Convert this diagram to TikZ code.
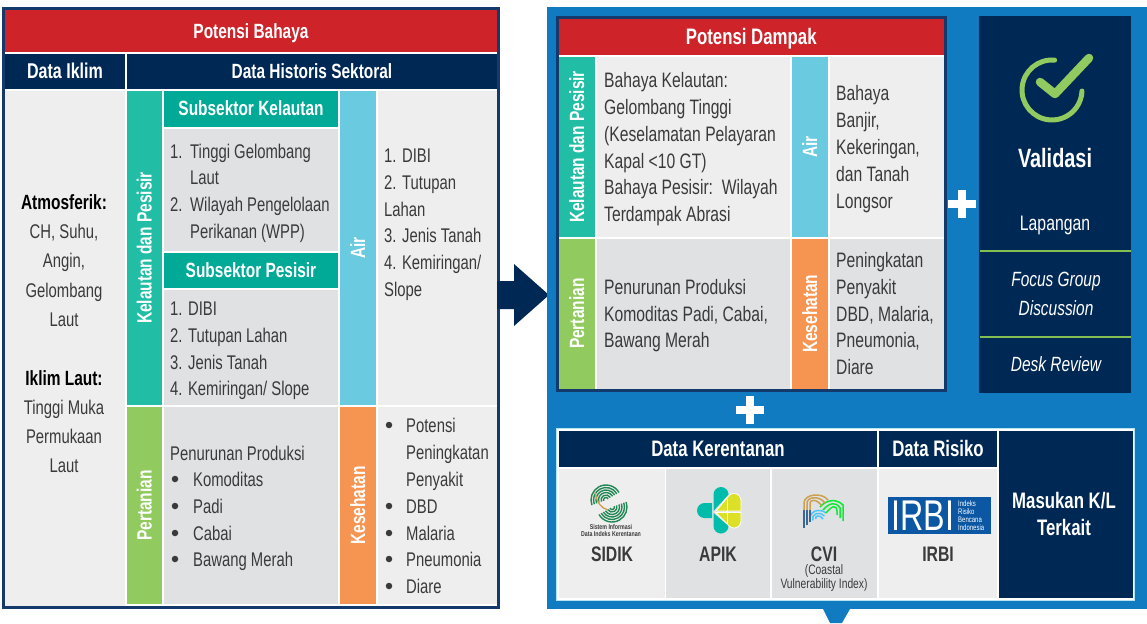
\documentclass[tikz,border=0pt]{standalone}
\usepackage{fontspec}
\setmainfont{Liberation Sans}[FakeStretch=0.75]
\definecolor{colorred}{RGB}{207,35,42}
\definecolor{colornavy}{RGB}{0,40,84}
\definecolor{colorframe}{RGB}{20,58,108}
\definecolor{colorteal}{RGB}{34,189,165}
\definecolor{colorsub}{RGB}{0,170,150}
\definecolor{colorair}{RGB}{106,202,224}
\definecolor{colorgreen}{RGB}{145,203,95}
\definecolor{colororange}{RGB}{246,149,82}
\definecolor{colorlight}{RGB}{238,238,238}
\definecolor{colorgray}{RGB}{224,225,227}
\definecolor{colorpanel}{RGB}{17,123,194}
\definecolor{colortext}{RGB}{58,58,58}
\definecolor{colorline}{RGB}{130,190,80}
\definecolor{colorirbi}{RGB}{11,87,164}
\definecolor{colorgold}{RGB}{205,160,80}
\definecolor{colorfinger}{RGB}{35,135,85}
\definecolor{colorapik}{RGB}{0,188,170}
\definecolor{coloryellow}{RGB}{220,225,40}
\tikzset{
  bodytext/.style={anchor=west,inner sep=0pt,text=colortext,text height=16pt,text depth=2pt,
              font=\fontsize{19.8}{22}\selectfont},
  largetext/.style={bodytext,font=\fontsize{20.9}{22}\selectfont},
  midtext/.style={bodytext,anchor=center},
  headtext/.style={inner sep=0pt,text=white,text height=16pt,text depth=2pt,font=\fontsize{20.6}{22}\selectfont\bfseries},
  bighead/.style={headtext,font=\fontsize{22.4}{24}\selectfont\bfseries},
  sidetext/.style={headtext,rotate=90},
  bulletdot/.style={circle,fill=colortext,inner sep=0pt,minimum size=6.5pt},
  whitetext/.style={midtext,text=white,font=\fontsize{21}{22}\selectfont},
  slanttext/.style={midtext,text=white,font=\fontsize{20.6}{22}\selectfont\itshape},
  systemtext/.style={headtext,text=colortext,text height=15pt,text depth=0pt,font=\fontsize{21}{22}\selectfont\bfseries},
  smalltext/.style={inner sep=0pt,text=colortext,font=\fontsize{13.7}{15}\selectfont},
  logotext/.style={inner sep=0pt,text=colortext,font=\fontsize{7}{8}\selectfont\bfseries},
}
\begin{document}
\begin{tikzpicture}[x=1pt,y=-1pt]
\useasboundingbox (0,0) rectangle (1147,623);

%part potensi bahaya
\fill[white,draw=colorframe,line width=3pt] (3.5,9) rectangle (498,607);
\path[fill=colorred] (5,10.5) rectangle (497,52) node[midway,headtext] (bahaya) {Potensi Bahaya};
\path[fill=colornavy] (5,54) rectangle (125,89) node[midway,headtext,font=\fontsize{21.4}{24}\selectfont\bfseries] (iklim) {Data Iklim};
\path[fill=colornavy] (127,54) rectangle (497,89) node[midway,headtext] (historis) {Data Historis Sektoral};
\fill[colorlight] (5,91) rectangle (125,605.5);
\path[fill=colorteal] (127,91) rectangle (162,405) node[midway,sidetext] (kelpes) {Kelautan dan Pesisir};
\path[fill=colorsub] (164,91) rectangle (338,127) node[midway,headtext] (subkel) {Subsektor Kelautan};
\fill[colorgray] (164,129) rectangle (338,251);
\path[fill=colorsub] (164,253) rectangle (338,288) node[midway,headtext] (subpes) {Subsektor Pesisir};
\fill[colorgray] (164,290) rectangle (338,405);
\path[fill=colorair] (340,91) rectangle (376,405) node[midway,sidetext] (air) {Air};
\fill[colorlight] (378,91) rectangle (497,405);
\path[fill=colorgreen] (127,407) rectangle (162,604) node[midway,sidetext] (tani) {Pertanian};
\fill[colorgray] (164,407) rectangle (338,604);
\path[fill=colororange] (340,407) rectangle (376,604) node[midway,sidetext] (sehat) {Kesehatan};
\fill[colorlight] (378,407) rectangle (497,604);

% data iklim
\node[midtext,text=black,font=\fontsize{20.6}{22}\selectfont\bfseries] (atmos) at (64,202) {Atmosferik:};
\foreach \n/\y/\t in {a/231/{CH, Suhu,},b/260/{Angin,},c/290/{Gelombang},d/319/{Laut},f/407/{Tinggi Muka},g/436/{Permukaan},h/465/{Laut}}
  \node[midtext] (iklim\n) at (64,\y) {\t};
\node[midtext,text=black,font=\fontsize{20.6}{22}\selectfont\bfseries] (laut) at (64,378) {Iklim Laut:};

% kelautan
\node[bodytext] (kel1) at (170,151) {1.};
\node[bodytext] (kel2) at (170,204) {2.};
\foreach \n/\y/\t in {a/151/{Tinggi Gelombang},b/177/{Laut},c/204/{Wilayah Pengelolaan},d/231/{Perikanan (WPP)}}
  \node[bodytext] (kel\n) at (190,\y) {\t};

% pesisir
\foreach \n/\y/\t in {a/308/{1. DIBI},b/335/{2. Tutupan Lahan},c/362/{3. Jenis Tanah},d/388/{4. Kemiringan/ Slope}}
  \node[bodytext] (pes\n) at (170,\y) {\t};

% air
\foreach \n/\y/\t in {a/155/{1. DIBI},b/182/{2. Tutupan},c/209/{Lahan},d/235/{3. Jenis Tanah},e/262/{4. Kemiringan/},f/289/{Slope}}
  \node[bodytext] (air\n) at (384,\y) {\t};

% pertanian
\node[bodytext] (tanit) at (170,453) {Penurunan Produksi};
\foreach \n/\y/\t in {a/479/{Komoditas},b/506/{Padi},c/533/{Cabai},d/559/{Bawang Merah}}{
  \node[bulletdot] (tanib\n) at (175,\y) {};
  \node[bodytext] (tani\n) at (193,\y) {\t};
}

% kesehatan
\foreach \n/\y/\t in {a/425/{Potensi},d/506/{DBD},e/533/{Malaria},f/559/{Pneumonia},g/586/{Diare}}{
  \node[bulletdot] (sehatb\n) at (389,\y) {};
  \node[bodytext] (sehat\n) at (406,\y) {\t};
}
\node[bodytext] (sehatb) at (406,452) {Peningkatan};
\node[bodytext] (sehatc) at (406,479) {Penyakit};

% panah
\fill[colornavy] (497,281) -- (514,281) -- (514,264) -- (549,295) -- (514,326) -- (514,309) -- (497,309) -- cycle;

%part panel biru
\fill[colorpanel] (547,7) rectangle (1147,609);
\fill[colorpanel] (823,609) -- (850,609) -- (842,623) -- (830,623) -- cycle;

%part potensi dampak
\fill[white,draw=colorframe,line width=3pt] (557.5,18) rectangle (945,390);
\path[fill=colorred] (559,19.5) rectangle (943.5,55) node[midway,bighead] (dampak) {Potensi Dampak};
\path[fill=colorteal] (559,57) rectangle (595,237) node[midway,sidetext] (dkelpes) {Kelautan dan Pesisir};
\fill[colorlight] (597,57) rectangle (790,237);
\path[fill=colorair] (792,57) rectangle (828,237) node[midway,sidetext] (dair) {Air};
\fill[colorlight] (830,57) rectangle (943.5,237);
\path[fill=colorgreen] (559,239) rectangle (595,388.5) node[midway,sidetext] (dtani) {Pertanian};
\fill[colorgray] (597,239) rectangle (790,388.5);
\path[fill=colororange] (792,239) rectangle (828,388.5) node[midway,sidetext] (dsehat) {Kesehatan};
\fill[colorgray] (830,239) rectangle (943.5,388.5);
\foreach \n/\y/\t in {a/81/{Bahaya Kelautan:},b/107/{Gelombang Tinggi},c/134/{(Keselamatan Pelayaran},d/161/{Kapal <10 GT)},e/187/{Bahaya Pesisir:\ \ Wilayah},f/214/{Terdampak Abrasi}}
  \node[largetext] (dkel\n) at (604,\y) {\t};
\foreach \n/\y/\t in {a/94/{Bahaya},b/121/{Banjir,},c/147/{Kekeringan,},d/174/{dan Tanah},e/201/{Longsor}}
  \node[largetext] (dair\n) at (836,\y) {\t};
\foreach \n/\y/\t in {a/287/{Penurunan Produksi},b/314/{Komoditas Padi, Cabai,},c/340/{Bawang Merah}}
  \node[largetext] (dtani\n) at (604,\y) {\t};
\foreach \n/\y/\t in {a/260/{Peningkatan},b/287/{Penyakit},c/314/{DBD, Malaria,},d/340/{Pneumonia,},e/367/{Diare}}
  \node[largetext] (dsehat\n) at (836,\y) {\t};

% plus
\fill[white] (958,190) rectangle (966,218);
\fill[white] (948,200) rectangle (976,208);
\fill[white] (746,396) rectangle (754,424);
\fill[white] (736,406) rectangle (764,414);

%part validasi
\fill[colornavy] (979,16) rectangle (1131,393);
\draw[colorgreen,line width=5pt,line cap=round] (1052,90) ++(85:30pt) arc[start angle=85,end angle=358,radius=30pt];
\draw[colorgreen,line width=8.5pt,line cap=round,line join=round] (1040,82) -- (1055,94) -- (1089,58);
\node[whitetext,font=\fontsize{26.5}{28}\selectfont\bfseries] (validasi) at (1055,160) {Validasi};
\node[whitetext] (lapangan) at (1055,223) {Lapangan};
\fill[colorline] (980,249.5) rectangle (1131,251.5);
\node[slanttext] (focus) at (1056,279) {Focus Group};
\node[slanttext] (diskusi) at (1056,308) {Discussion};
\fill[colorline] (980,335.5) rectangle (1131,337.5);
\node[slanttext] (desk) at (1056,364) {Desk Review};

%part data
\fill[white,draw=colorair!50!white,line width=1pt] (556,428.5) rectangle (1134.5,600.5);
\path[fill=colornavy] (559,431) rectangle (877,467) node[midway,bighead] (rentan) {Data Kerentanan};
\path[fill=colornavy] (879,431) rectangle (997,467) node[midway,bighead] (risiko) {Data Risiko};
\path[fill=colornavy] (999,431) rectangle (1133,598);
\node[bighead] (masuk) at (1064,501) {Masukan K/L};
\node[bighead] (kait) at (1064,528) {Terkait};
\fill[colorlight] (559,469) rectangle (664.5,598);
\fill[colorgray] (666,469) rectangle (770,598);
\fill[colorgray] (772,469) rectangle (877,598);
\fill[colorlight] (879,469) rectangle (997,598);
\node[systemtext] (sidik) at (612,553.5) {SIDIK};
\node[systemtext] (apik) at (718,553.5) {APIK};
\node[systemtext] (cvi) at (824,553.5) {CVI};
\node[systemtext] (irbi) at (938,553.5) {IRBI};
\node[smalltext] (pesisir) at (824,570.5) {(Coastal};
\node[smalltext] (index) at (824,584.5) {Vulnerability Index)};

% logo sidik
\foreach \r in {2.5,5,7.5,10,12.5,15}{
  \draw[colorfinger,line width=1.4pt] (606,500) ++(30:\r pt) arc[start angle=30,end angle=200,radius=\r pt];
  \draw[colorfinger,line width=1.4pt] (612,507) ++(210:\r pt) arc[start angle=210,end angle=380,radius=\r pt];
}
\draw[colorgold,line width=1.3pt] (595,492) .. controls (597,503) and (601,508) .. (608,510);
\node[logotext] (sistem) at (611,527) {Sistem Informasi};
\node[logotext] (indeks) at (611,534) {Data Indeks Kerentanan};

% logo apik
\fill[colorapik] (712,503) -- (704.5,503) arc[start angle=90,end angle=270,radius=7.5pt] -- (712,518) -- cycle;
\fill[colorapik] (713.5,511) -- (713.5,494.5) arc[start angle=180,end angle=0,radius=7.5pt] -- cycle;
\fill[colorapik] (713.5,513) -- (713.5,526) arc[start angle=180,end angle=360,radius=7.5pt] -- cycle;
\fill[coloryellow,draw=white,line width=0.8pt] (716,511) -- (729,495.5) arc[start angle=135,end angle=0,radius=7pt] -- (741,511) -- cycle;
\fill[coloryellow,draw=white,line width=0.8pt] (716,512.5) -- (741,512.5) -- (741,521) arc[start angle=0,end angle=-135,radius=7pt] -- cycle;
\fill[white] (727,499) rectangle (728,525);

% logo cvi
\foreach \d in {0,3,6}{
  \draw[colorgold,line width=1.5pt] (804+\d,510) -- (804+\d,503) .. controls (804+\d,494+\d) and (822-\d,492+\d) .. (828-\d,500+\d);
  \draw[colorirbi!60!gray,line width=1.5pt] (804+\d,528-\d) -- (804+\d,510);
  \draw[green!70!colorteal,line width=1.5pt] (820+\d,507+\d) .. controls (826+\d,500+\d) and (836,498+\d) .. (843-\d,505+\d) -- (843-\d,521-\d);
  \draw[cyan!70!white,line width=1.5pt] (810+\d,522-\d*0.5) .. controls (808+\d,510+\d) and (820,508+\d) .. (826-\d*0.5,513+\d);
}

% logo irbi
\fill[colorirbi] (888,497) rectangle (991,534);
\node[inner sep=0pt,text=white,font=\fontsize{43}{43}\selectfont] (irbilogo) at (923,516) {IRBI};
\foreach \n/\y/\t in {a/504/{Indeks},b/512/{Risiko},c/520/{Bencana},d/528/{Indonesia}}
  \node[inner sep=0pt,anchor=west,text=white,font=\fontsize{8}{8}\selectfont] (irbi\n) at (958,\y) {\t};

\end{tikzpicture}
\end{document}
